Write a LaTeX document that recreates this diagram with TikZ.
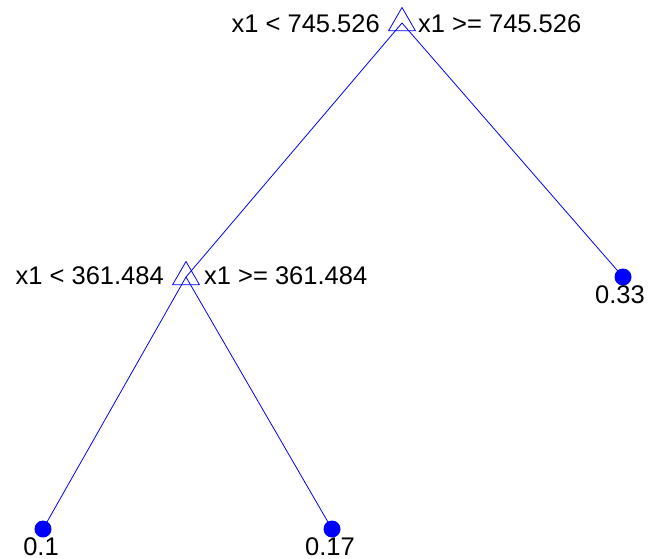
\documentclass[tikz,border=0pt]{standalone}
\usepackage{fontspec}
\setmainfont{Liberation Sans}
\usetikzlibrary{positioning,shapes.geometric}
\definecolor{treeblue}{RGB}{0,0,255}

\begin{document}
\begin{tikzpicture}[x=1bp, y=-1bp,
    every node/.style={font=\fontsize{25.5bp}{30bp}\selectfont, inner sep=0pt},
    split/.style={draw=treeblue, line width=0.8bp, regular polygon, regular polygon sides=3, minimum size=31bp},
    leaf/.style={circle, fill=treeblue, minimum size=17bp},
    edge/.style={treeblue, line width=0.8bp}]
\useasboundingbox (0,0) rectangle (658,559);
% decision nodes and leaves
\node[split] (root) at (402,23) {};
\node[split] (cut) at (186,277) {};
\node[leaf] (leafa) at (43,529) {};
\node[leaf] (leafb) at (332,529) {};
\node[leaf] (leafc) at (623,277) {};
% branches
\draw[edge] (root.center) -- (cut.center);
\draw[edge] (root.center) -- (leafc.center);
\draw[edge] (cut.center) -- (leafa.center);
\draw[edge] (cut.center) -- (leafb.center);
% split rules
\node[anchor=base east] (rootlo) at (380,33) {x1 < 745.526};
\node[anchor=base west] (roothi) at (418,33) {x1 >= 745.526};
\node[anchor=base east] (cutlo) at (164,284.5) {x1 < 361.484};
\node[anchor=base west] (cuthi) at (204,284.5) {x1 >= 361.484};
% leaf values
\node[anchor=base] (vala) at (41,555) {0.1};
\node[anchor=base] (valb) at (330,555) {0.17};
\node[anchor=base] (valc) at (620,303) {0.33};
\end{tikzpicture}
\end{document}
